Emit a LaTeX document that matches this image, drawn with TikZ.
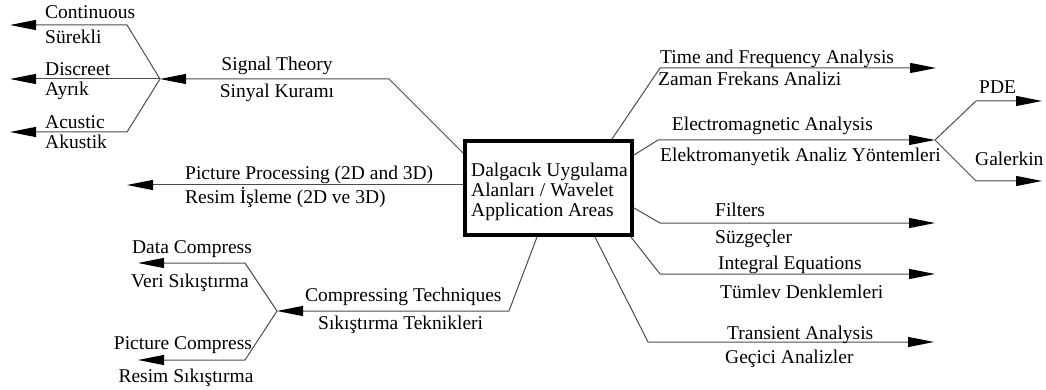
\documentclass[tikz,border=0pt]{standalone}
\usepackage{fontspec}
\setmainfont{Liberation Serif}
\usetikzlibrary{arrows.meta}
\begin{document}
\begin{tikzpicture}[x=1pt,y=-1pt,
  lbl/.style={inner sep=0pt,font=\fontsize{19.5}{20}\selectfont},
  conn/.style={draw=black!70,line width=1pt,line join=round},
  arr/.style={conn,-{Triangle[length=26pt,width=10pt,color=black]}},
  boxst/.style={draw=black,line width=4pt,minimum width=167pt,minimum height=94pt,inner sep=0pt},
  boxtxt/.style={lbl,align=left}]
\useasboundingbox (0,0) rectangle (1046,390);
% central box
\node[boxst] (box) at (548.5,188) {};
\node[boxtxt,anchor=west] (boxlabel) at (471,192) {Dalgacık Uygulama\\Alanları / Wavelet\\Application Areas};

% coordinates
\coordinate (jL) at (160,79);
\coordinate (tC) at (10,25);   \coordinate (bC) at (127,25);
\coordinate (tD) at (10,79);
\coordinate (tA) at (10,132);  \coordinate (bA) at (127,132);
\coordinate (sA) at (463,153); \coordinate (sB) at (389,79);
\coordinate (pA) at (463,185); \coordinate (pT) at (127,185);
\coordinate (cA) at (537,237); \coordinate (cB) at (509,311); \coordinate (jC) at (277,311);
\coordinate (dB) at (245,263); \coordinate (dT) at (138,263);
\coordinate (qB) at (245,360); \coordinate (qT) at (138,360);
\coordinate (fA) at (612,139); \coordinate (fB) at (660,68);  \coordinate (fT) at (936,68);
\coordinate (eA) at (634,155); \coordinate (eB) at (658,140); \coordinate (jE) at (935,140);
\coordinate (gB) at (976,101); \coordinate (gT) at (1042,101);
\coordinate (kB) at (976,181); \coordinate (kT) at (1042,181);
\coordinate (lA) at (634,208); \coordinate (lB) at (660,223); \coordinate (lT) at (935,223);
\coordinate (iA) at (631,237); \coordinate (iB) at (660,274); \coordinate (iT) at (935,274);
\coordinate (rA) at (595,237); \coordinate (rB) at (648,342); \coordinate (rT) at (934,342);

% connectors
\draw[arr] (sA) -- (sB) -- (jL);
\draw[arr] (jL) -- (bC) -- (tC);
\draw[arr] (jL) -- (tD);
\draw[arr] (jL) -- (bA) -- (tA);
\draw[arr] (pA) -- (pT);
\draw[arr] (cA) -- (cB) -- (jC);
\draw[arr] (jC) -- (dB) -- (dT);
\draw[arr] (jC) -- (qB) -- (qT);
\draw[arr] (fA) -- (fB) -- (fT);
\draw[arr] (eA) -- (eB) -- (jE);
\draw[arr] (jE) -- (gB) -- (gT);
\draw[arr] (jE) -- (kB) -- (kT);
\draw[arr] (lA) -- (lB) -- (lT);
\draw[arr] (iA) -- (iB) -- (iT);
\draw[arr] (rA) -- (rB) -- (rT);

% labels
\node[lbl,anchor=base west] (l1) at (45,19) {Continuous};
\node[lbl,anchor=base west] (l2) at (45,44) {Sürekli};
\node[lbl,anchor=base west] (l3) at (45,76) {Discreet};
\node[lbl,anchor=base west] (l4) at (45,96) {Ayrık};
\node[lbl,anchor=base west] (l5) at (45,129) {Acustic};
\node[lbl,anchor=base west] (l6) at (45,149) {Akustik};
\node[lbl,anchor=base] (l7) at (277,71) {Signal Theory};
\node[lbl,anchor=base] (l8) at (277,98) {Sinyal Kuramı};
\node[lbl,anchor=base west] (l9) at (185,180) {Picture Processing (2D and 3D)};
\node[lbl,anchor=base west] (l10) at (185,204) {Resim İşleme (2D ve 3D)};
\node[lbl,anchor=base] (l11) at (192,253) {Data Compress};
\node[lbl,anchor=base] (l12) at (190,287) {Veri Sıkıştırma};
\node[lbl,anchor=base] (l13) at (183,349) {Picture Compress};
\node[lbl,anchor=base] (l14) at (186,382) {Resim Sıkıştırma};
\node[lbl,anchor=base west] (l15) at (305,301) {Compressing Techniques};
\node[lbl,anchor=base west] (l16) at (318,329) {Sıkıştırma Teknikleri};
\node[lbl,anchor=base west] (l17) at (660,64) {Time and Frequency Analysis};
\node[lbl,anchor=base west] (l18) at (658,86) {Zaman Frekans Analizi};
\node[lbl,anchor=base east] (l19) at (873,131) {Electromagnetic Analysis};
\node[lbl,anchor=base west] (l20) at (660,162) {Elektromanyetik Analiz Yöntemleri};
\node[lbl,anchor=base west] (l21) at (979,94) {PDE};
\node[lbl,anchor=base west] (l22) at (975,166) {Galerkin};
\node[lbl,anchor=base west] (l23) at (715,216) {Filters};
\node[lbl,anchor=base west] (l24) at (715,243) {Süzgeçler};
\node[lbl,anchor=base west] (l25) at (718,269) {Integral Equations};
\node[lbl,anchor=base west] (l26) at (720,298) {Tümlev Denklemleri};
\node[lbl,anchor=base west] (l27) at (727,339) {Transient Analysis};
\node[lbl,anchor=base west] (l28) at (725,363) {Geçici Analizler};
\end{tikzpicture}
\end{document}
